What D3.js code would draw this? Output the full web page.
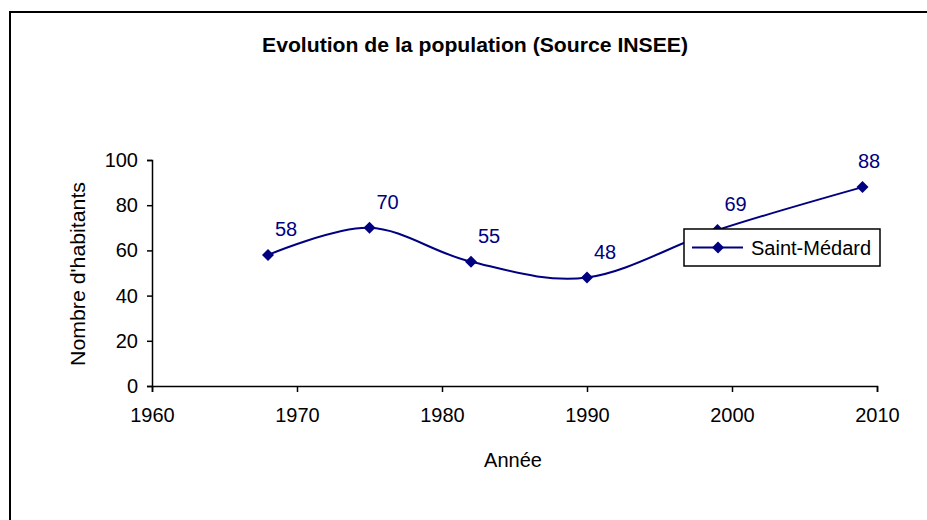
<!DOCTYPE html>
<html><head><meta charset="utf-8">
<script src="https://cdn.jsdelivr.net/npm/d3@7"></script>
<style>body{margin:0;background:#fff}svg{display:block;font-family:"Liberation Sans",Arial,sans-serif}</style>
</head><body><svg id="c" width="927" height="520"></svg>
<script>
const years = [1968, 1975, 1982, 1990, 1999, 2009];
const population = [58, 70, 55, 48, 69, 88];
const xTicks = [1960, 1970, 1980, 1990, 2000, 2010];
const yTicks = [0, 20, 40, 60, 80, 100];
const seriesName = "Saint-Médard";
const title = "Evolution de la population (Source INSEE)";
const xTitle = "Année";
const yTitle = "Nombre d'habitants";

const navy = "#000080";
const fs = 20;
const svg = d3.select("#c");
const x = d3.scaleLinear().domain([1960, 2010]).range([152, 877]);
const y = d3.scaleLinear().domain([0, 100]).range([386, 160]);

// outer border
svg.append("rect").attr("x", 10).attr("y", 12).attr("width", 940).attr("height", 540)
  .attr("fill", "none").attr("stroke", "#000").attr("stroke-width", 2);

svg.append("text").attr("x", 475).attr("y", 52).attr("text-anchor", "middle")
  .attr("font-weight", "bold").attr("font-size", 21)
  .attr("textLength", 426).attr("lengthAdjust", "spacingAndGlyphs").text(title);

const xa = svg.append("g").attr("transform", "translate(0,386)")
  .call(d3.axisBottom(x).tickValues(xTicks).tickFormat(d3.format("d")).tickSizeOuter(0).tickSize(6).tickPadding(16));
const ya = svg.append("g").attr("transform", "translate(152,0)")
  .call(d3.axisLeft(y).tickValues(yTicks).tickSizeOuter(0).tickSize(5).tickPadding(9));
[xa, ya].forEach(a => {
  a.selectAll("path,line").attr("stroke", "#000").attr("stroke-width", 1.5);
  a.selectAll("text").attr("font-size", fs).attr("fill", "#000").attr("font-family", "Liberation Sans, Arial, sans-serif");
});

svg.append("text").attr("x", 513).attr("y", 467).attr("text-anchor", "middle").attr("font-size", fs).text(xTitle);
svg.append("text").attr("transform", "translate(85,274) rotate(-90)").attr("text-anchor", "middle")
  .attr("font-size", fs).attr("textLength", 184).attr("lengthAdjust", "spacingAndGlyphs").text(yTitle);

const data = years.map((yr, i) => ({yr, v: population[i]}));
const line = d3.line().x(d => x(d.yr)).y(d => y(d.v)).curve(d3.curveCardinal.tension(0));
svg.append("path").datum(data).attr("d", line).attr("fill", "none").attr("stroke", navy).attr("stroke-width", 2);

const diamond = "M0,-6L6,0L0,6L-6,0Z";
svg.selectAll(".m").data(data).enter().append("path")
  .attr("d", diamond).attr("fill", navy)
  .attr("transform", d => `translate(${x(d.yr)},${y(d.v)})`);

svg.selectAll(".lbl").data(data).enter().append("text")
  .attr("x", d => Math.min(x(d.yr) + 18, 869)).attr("y", d => y(d.v) - 19)
  .attr("text-anchor", "middle").attr("font-size", fs).attr("fill", navy).text(d => d.v);

// legend
const lg = svg.append("g");
lg.append("rect").attr("x", 684).attr("y", 229).attr("width", 196).attr("height", 37)
  .attr("fill", "#fff").attr("stroke", "#000").attr("stroke-width", 1.5);
lg.append("line").attr("x1", 692).attr("x2", 743).attr("y1", 247.5).attr("y2", 247.5).attr("stroke", navy).attr("stroke-width", 2);
lg.append("path").attr("d", diamond).attr("fill", navy).attr("transform", "translate(718,247.5)");
lg.append("text").attr("x", 751).attr("y", 255).attr("font-size", fs).text(seriesName);
</script></body></html>
